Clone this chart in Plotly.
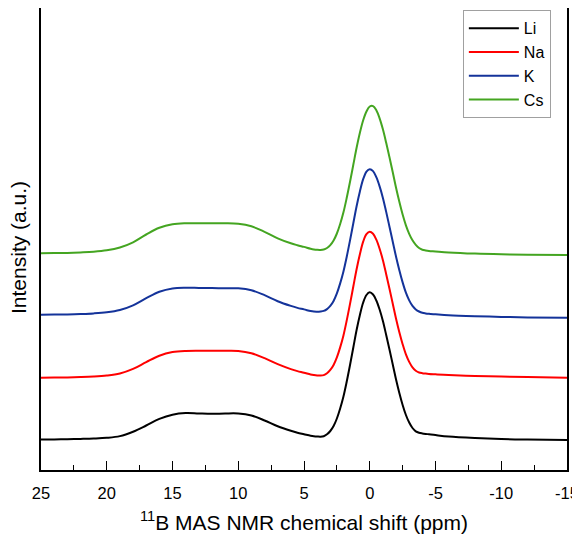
import plotly.graph_objects as go

# chemical shift grid (ppm)
shift = [25, 24, 23, 22, 21, 20, 19, 18, 17, 16, 15, 14, 13, 12, 11, 10, 9, 8, 7, 6, 5.5, 5,
         4.5, 4.25, 4, 3.75, 3.5, 3.25, 3, 2.75, 2.5, 2.25, 2, 1.75, 1.5, 1.25, 1, 0.75, 0.5, 0.25,
         0, -0.25, -0.5, -0.75, -1, -1.25, -1.5, -1.75, -2, -2.25, -2.5, -2.75, -3, -3.25, -3.5,
         -3.75, -4, -4.25, -4.5,
         -5, -6, -8, -10, -12, -15]

# intensities (a.u.), each relative to its own baseline
li = [0, 0.1, 0.3, 0.6, 1.0, 1.7, 3.4, 7.8, 14, 20.6, 24.8, 26.4, 26, 25.7, 26, 26, 24, 19, 13.2, 8.7, 6.8, 5.3,
      3.8, 3.3, 3.0, 2.8, 3.3, 5.2, 8.5, 13.5, 21, 31, 43, 58, 74.5, 92, 109.5, 124.5, 137, 144.5,
      147.2, 145, 139, 130, 118.5, 104.5, 90, 75, 60, 46.5, 34.5, 24.5, 17, 11.5, 8.2,
      6.8, 6.1, 5.6, 5.2,
      4.4, 3, 1.5, 0.5, 0, -0.5]
na = [0, 0.1, 0.3, 0.6, 1.1, 2.1, 4.2, 8.8, 15.6, 22, 25.6, 26.8, 27, 27, 27, 26.8, 24.5, 19.5, 13.5, 8.6, 6.6, 5,
      3.2, 2.6, 2.2, 2.1, 2.6, 4.5, 7.8, 12.8, 20.3, 30.3, 42.3, 57.3, 73.8, 91.2, 108.5, 123.5, 136, 143.5,
      146, 144, 138, 129, 117.5, 103.5, 89, 74, 59, 45.5, 33.5, 23.3, 15.8, 10.3, 7,
      5.2, 4.5, 4.1, 3.8,
      3.4, 2.7, 1.8, 1.2, 0.6, 0]
k = [0, 0.1, 0.3, 0.7, 1.3, 2.4, 4.7, 9.4, 16.5, 23, 26.3, 27, 26.8, 26.6, 26.5, 26.4, 24.5, 19.5, 13.5, 8.8, 6.8, 5.3,
     3.6, 3.1, 3.0, 3.2, 3.8, 5.6, 8.8, 13.8, 21.3, 31.3, 43.3, 58, 74.3, 91.5, 108.5, 123.3, 135.5, 143,
     145.4, 143.6, 137.5, 128.3, 116.8, 102.8, 88, 73, 58, 44.5, 32.3, 22, 14.3, 8.8, 5.3,
     3.2, 1.9, 1.3, 0.9,
     0.4, -0.5, -1.5, -2.2, -2.7, -3]
cs = [0, 0.2, 0.4, 0.9, 1.6, 3.0, 5.8, 11, 18.8, 25.5, 29, 30, 30, 30, 30, 29.5, 27, 21.5, 15, 10, 8.1, 6.4,
      4.6, 3.9, 3.5, 3.4, 3.8, 5.3, 8.2, 12.8, 19.8, 29.3, 41, 55.5, 71.5, 88.5, 105.5, 120.5, 133, 141.8,
      146.8, 147.2, 143, 135, 124, 110.5, 96, 81, 65.5, 51.5, 38.8, 28, 19.5, 13, 8.5,
      5.3, 3.6, 2.9, 2.4,
      1.9, 0.9, -0.3, -1, -1.4, -1.7]

names = ["Li", "Na", "K", "Cs"]
offsets = [0, 61.8, 124.8, 186.2]
colors = ["#000000", "#ff0000", "#14339a", "#44a521"]
series = [li, na, k, cs]

tick_vals = [25, 20, 15, 10, 5, 0, -5, -10, -15]
tick_text = ["25", "20", "15", "10", "5", "0", "-5", "-10", "-15"]

fig = go.Figure()
for name, vals, off, col in zip(names, series, offsets, colors):
    fig.add_trace(go.Scatter(
        x=shift, y=[v + off for v in vals], mode="lines", name=name,
        line=dict(color=col, width=2, shape="spline", smoothing=1.0),
    ))

font = "Liberation Sans, Arial, sans-serif"
# page body has an 8px default margin; figure sized to fit the 580x537 window
fig.update_layout(
    width=572, height=529,
    margin=dict(l=33, r=13, t=0, b=67),
    plot_bgcolor="white", paper_bgcolor="white",
    font=dict(family=font, color="black", size=17),
    showlegend=True,
    legend=dict(x=0.802, y=0.995, xanchor="left", yanchor="top",
                bordercolor="#a0a0a0", borderwidth=1, bgcolor="white",
                font=dict(size=16, family=font), itemwidth=50,
                tracegroupgap=0),
    annotations=[dict(text="Intensity (a.u.)", textangle=-90, xref="paper", yref="paper",
                      x=-0.0428, y=0.4816, xanchor="center", yanchor="middle",
                      showarrow=False, font=dict(size=21, family=font))],
)
fig.update_xaxes(
    range=[25, -15], tickmode="array", tickvals=tick_vals, ticktext=tick_text,
    ticks="inside", ticklen=9, tickwidth=1.3, tickcolor="black",
    minor=dict(tickmode="linear", tick0=25, dtick=2.5, ticks="inside", ticklen=5,
               tickwidth=1.3, tickcolor="black"),
    showline=True, linecolor="black", linewidth=1.5, mirror=True,
    showgrid=False, zeroline=False, automargin=False,
    tickfont=dict(size=16.5), ticklabelstandoff=7,
    title=dict(text="<sup>11</sup>B MAS NMR chemical shift (ppm)", font=dict(size=21), standoff=15),
)
fig.update_yaxes(
    range=[-30.5, 431.5], showticklabels=False, ticks="",
    showline=True, linecolor="black", linewidth=1.5, mirror=True,
    showgrid=False, zeroline=False, automargin=False,
)

fig.write_html("out.html")
